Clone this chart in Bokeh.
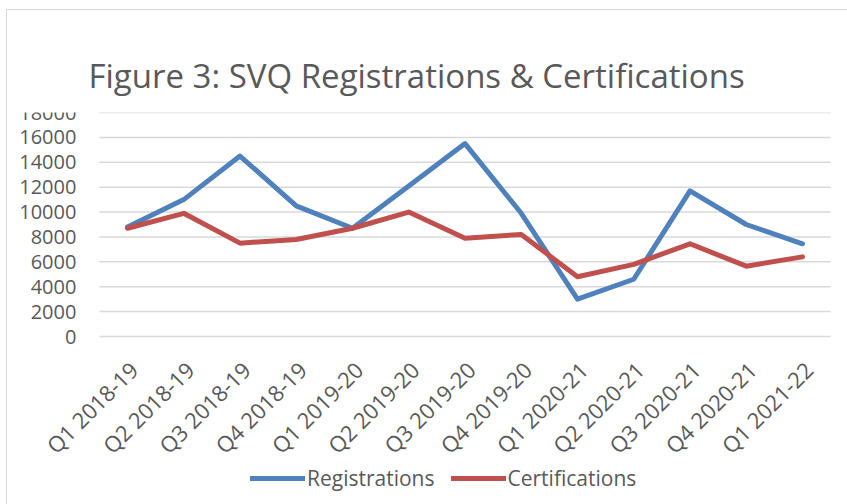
from bokeh.plotting import figure
from bokeh.models import Range1d, Legend, LegendItem, Title
from bokeh.core.properties import value
from bokeh.embed import file_html
from bokeh.resources import INLINE
import math

quarters = ["Q1 2018-19", "Q2 2018-19", "Q3 2018-19", "Q4 2018-19",
            "Q1 2019-20", "Q2 2019-20", "Q3 2019-20", "Q4 2019-20",
            "Q1 2020-21", "Q2 2020-21", "Q3 2020-21", "Q4 2020-21",
            "Q1 2021-22"]
registrations = [8800, 11000, 14500, 10500, 8700, 12100, 15500, 9900,
                 3000, 4600, 11700, 9000, 7450]
certifications = [8700, 9900, 7500, 7800, 8700, 10000, 7900, 8200,
                  4800, 5800, 7450, 5650, 6400]
y_ticks = [0, 2000, 4000, 6000, 8000, 10000, 12000, 14000, 16000, 18000]
y_tick_labels = [str(t) for t in y_ticks]

FONT = "Open Sans"
TEXT_COLOR = "#595959"

# layout (pixels)
FRAME_W, FRAME_H = 840, 392
CAT_W = 56.25            # width of one category
FIRST_X = 120            # first category centre, from the frame's left edge
PLOT_H = 224             # height of 0..18000
Y_MAX = 18000
x_start = -FIRST_X / CAT_W
x_end = x_start + FRAME_W / CAT_W
y_start = -(FRAME_H - PLOT_H) * Y_MAX / PLOT_H

idx = list(range(len(quarters)))

p = figure(frame_width=FRAME_W, frame_height=FRAME_H, output_backend="svg",
           toolbar_location=None, x_axis_type=None, y_axis_type=None,
           x_range=Range1d(x_start, x_end), y_range=Range1d(y_start, Y_MAX),
           min_border_left=0, min_border_right=0, min_border_top=102,
           min_border_bottom=0, title=None)
p.styles = {"margin-left": "6px", "margin-top": "9px",
            "border-left": "1px solid #d9d9d9", "border-top": "1px solid #d9d9d9"}
p.outline_line_color = None
p.background_fill_color = "white"
p.border_fill_color = "white"

# gridlines
p.segment(x0=-0.5, x1=len(quarters) - 0.5, y0=y_ticks, y1=y_ticks,
          line_color="#d9d9d9", line_width=1.5)

# y tick labels
p.text(x=-0.5, y=y_ticks, text=y_tick_labels, x_offset=-23,
       text_align="right", text_baseline="middle",
       text_font=value(FONT), text_font_size="20px", text_color=TEXT_COLOR)

# x tick labels (rotated)
p.text(x=idx, y=0, text=quarters, angle=math.pi / 4, x_offset=6, y_offset=29,
       text_align="right", text_baseline="middle",
       text_font=value(FONT), text_font_size="22px", text_color=TEXT_COLOR)

r1 = p.line(idx, registrations, line_color="#4F81BD", line_width=5,
            line_join="round", line_cap="round")
r2 = p.line(idx, certifications, line_color="#C0504D", line_width=5,
            line_join="round", line_cap="round")

title = Title(text="Figure 3: SVQ Registrations & Certifications",
              text_font=FONT, text_font_size="33px", text_font_style="normal",
              text_color=TEXT_COLOR, align="left", offset=81, standoff=30)
p.add_layout(title, "above")

legend = Legend(items=[LegendItem(label="Registrations", renderers=[r1]),
                       LegendItem(label="Certifications", renderers=[r2])],
                orientation="horizontal", location=(243, 12),
                label_text_font=FONT, label_text_font_size="21px",
                label_text_color=TEXT_COLOR, glyph_width=55, glyph_height=20,
                label_standoff=2, spacing=16, border_line_color=None,
                background_fill_alpha=0, padding=0, margin=0)
p.add_layout(legend)

open("out.html", "w").write(file_html(p, INLINE))
